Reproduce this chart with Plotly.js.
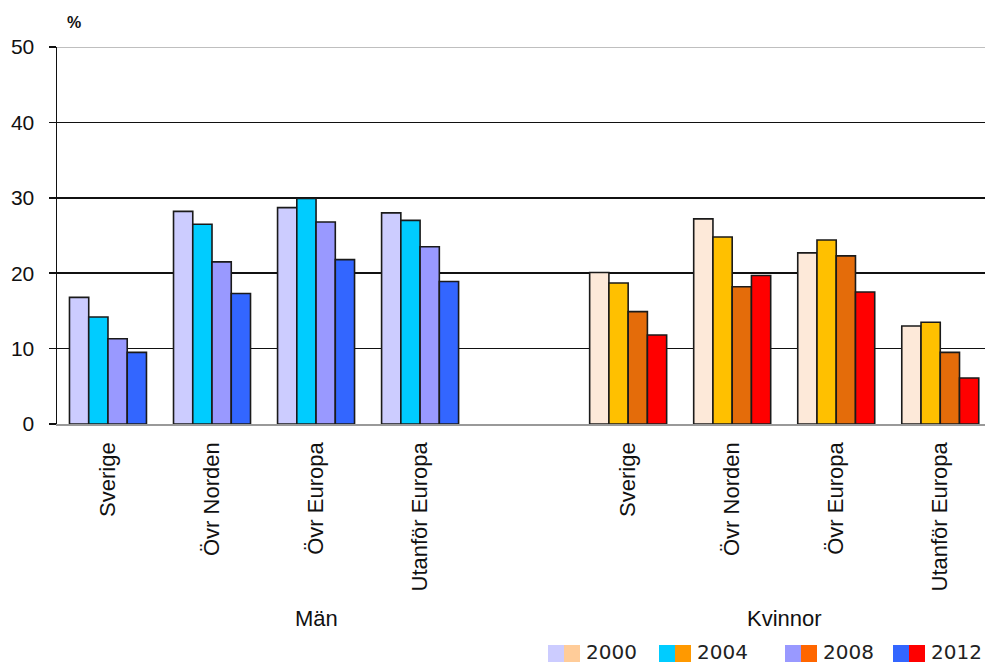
<!DOCTYPE html>
<html><head><meta charset="utf-8">
<script src="https://cdn.plot.ly/plotly-3.0.1.min.js"></script>
<style>html,body{margin:0;padding:0;background:#fff;overflow:hidden}</style>
</head><body>
<div id="chart" style="width:985px;height:664px"></div>
<script>
// Data
const categories = ["Sverige", "Övr Norden", "Övr Europa", "Utanför Europa"];
const groups = ["Män", "Kvinnor"];
const years = ["2000", "2004", "2008", "2012"];
const men2000 = [16.8, 28.2, 28.7, 28.0];
const men2004 = [14.2, 26.5, 29.9, 27.0];
const men2008 = [11.3, 21.5, 26.8, 23.5];
const men2012 = [9.5, 17.3, 21.8, 18.9];
const women2000 = [20.1, 27.2, 22.7, 13.0];
const women2004 = [18.7, 24.8, 24.4, 13.5];
const women2008 = [14.9, 18.2, 22.3, 9.5];
const women2012 = [11.8, 19.7, 17.5, 6.1];
const yTicks = [0, 10, 20, 30, 40, 50];

const menColors = ["#CCCCFF", "#00CCFF", "#9999FF", "#3366FF"];
const womenColors = ["#FDE9D9", "#FFC000", "#E46C0A", "#FF0000"];
const legendMen = ["#CCCCFF", "#00CCFF", "#9999FF", "#3366FF"];
const legendWomen = ["#FFCC99", "#FF9900", "#FF6600", "#FF0000"];

const menX = [0, 1, 2, 3];
const womenX = [5, 6, 7, 8];
const xPos = menX.concat(womenX);
const tickText = categories.concat(categories);

const menSeries = [men2000, men2004, men2008, men2012];
const womenSeries = [women2000, women2004, women2008, women2012];

const traces = years.map((yr, i) => ({
  type: "bar",
  name: yr,
  x: xPos,
  y: menSeries[i].concat(womenSeries[i]),
  marker: {
    color: menX.map(() => menColors[i]).concat(womenX.map(() => womenColors[i])),
    line: {color: "#1a1a1a", width: 1.6}
  },
  showlegend: false,
  hoverinfo: "y"
}));

// pixel helpers for layout positioning
const L = 57, R = 985, T = 47, B = 424;
const px = x => (x - L) / (R - L);
const py = y => (B - y) / (B - T);

const FONT = "Liberation Sans, Arial, sans-serif";

const shapes = [
  {type: "line", xref: "paper", yref: "y", x0: 0, x1: 1, y0: 50, y1: 50, line: {color: "#aaaaaa", width: 1.5}}
];
const annotations = [
  {xref: "x", yref: "paper", x: 2, y: py(618), text: groups[0], showarrow: false,
   font: {family: FONT, size: 22, color: "#111"}, yanchor: "middle"},
  {xref: "x", yref: "paper", x: 6.5, y: py(618), text: groups[1], showarrow: false,
   font: {family: FONT, size: 22, color: "#111"}, yanchor: "middle"},
  {xref: "paper", yref: "paper", x: px(65), y: py(22), text: "<b>%</b>", showarrow: false,
   xanchor: "left", yanchor: "middle", font: {family: FONT, size: 16, color: "#111"}}
];
const legX = [548, 659, 785, 893];
years.forEach((yr, i) => {
  const x0 = legX[i];
  shapes.push({type: "rect", xref: "paper", yref: "paper", x0: px(x0), x1: px(x0 + 16),
    y0: py(662), y1: py(645), fillcolor: legendMen[i], line: {width: 0}});
  shapes.push({type: "rect", xref: "paper", yref: "paper", x0: px(x0 + 16), x1: px(x0 + 32),
    y0: py(662), y1: py(645), fillcolor: legendWomen[i], line: {width: 0}});
  annotations.push({xref: "paper", yref: "paper", x: px(x0 + 36), y: py(652), text: yr,
    showarrow: false, xanchor: "left", yanchor: "middle",
    font: {family: "DejaVu Sans, Verdana", size: 20, color: "#222"}});
});

const layout = {
  width: 985, height: 664,
  margin: {l: L, r: 0, t: T, b: 664 - B, pad: 0},
  paper_bgcolor: "#fff", plot_bgcolor: "#fff",
  barmode: "group", bargap: 0.26, bargroupgap: 0,
  showlegend: false,
  xaxis: {
    range: [-0.49, 8.43],
    tickmode: "array", tickvals: xPos, ticktext: tickText,
    tickangle: -90, ticks: "", showgrid: false, zeroline: false,
    showline: true, linecolor: "#999", linewidth: 1.5,
    ticklabelstandoff: 8,
    tickfont: {family: FONT, size: 22, color: "#111"},
    fixedrange: true
  },
  yaxis: {
    range: [0, 50], tickmode: "array", tickvals: yTicks,
    ticks: "outside", ticklen: 7, tickwidth: 1.5, tickcolor: "#111",
    showline: true, linecolor: "#111", linewidth: 1.5,
    showgrid: true, gridcolor: "#111", gridwidth: 1.5,
    zeroline: false, ticklabelstandoff: 10,
    tickfont: {family: FONT, size: 21, color: "#111"},
    fixedrange: true
  },
  shapes: shapes,
  annotations: annotations
};

Plotly.newPlot("chart", traces, layout, {displayModeBar: false, staticPlot: true});
</script>
</body></html>
